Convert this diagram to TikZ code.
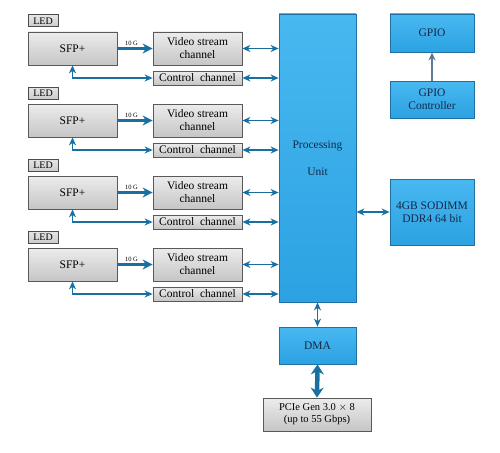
\documentclass[tikz,border=0pt]{standalone}
\usepackage{fontspec}
\setmainfont{Liberation Serif}
\usetikzlibrary{arrows.meta}

\definecolor{boxblue}{RGB}{44,162,226}
\definecolor{boxbluetop}{RGB}{72,184,240}
\definecolor{edgeblue}{RGB}{30,112,165}
\definecolor{linkblue}{RGB}{24,112,162}
\definecolor{inkblue}{RGB}{22,38,70}
\definecolor{gpiolink}{RGB}{96,122,150}

\begin{document}
\begin{tikzpicture}
  [x=1pt, y=-1pt,
   font=\fontsize{11.5}{13}\selectfont,
   bbox/.style={draw=edgeblue, thick, top color=boxbluetop, bottom color=boxblue,
                text=inkblue, align=center, inner sep=0},
   gbox/.style={draw=gray!70!black, thick, top color=gray!15, bottom color=gray!45,
                align=center, inner sep=0},
   ledbox/.style={draw=gray!60!black, line width=1pt, top color=gray!20,
                  bottom color=gray!40, minimum width=30pt, minimum height=12pt,
                  inner sep=0, font=\fontsize{10}{11}\selectfont},
   sfpbox/.style={gbox, minimum width=89pt, minimum height=33pt},
   vidbox/.style={gbox, minimum width=89pt, minimum height=33pt},
   ctlbox/.style={gbox, minimum width=89pt, minimum height=14pt},
   link/.style={draw=linkblue, line width=1.4pt,
                {Stealth[length=8pt,width=7pt]}-{Stealth[length=8pt,width=7pt]}},
   feed/.style={link},
   wide/.style={draw=linkblue, line width=3pt, -{Stealth[length=10pt,width=10pt]}},
   gig/.style={font=\fontsize{6.5}{7}\selectfont, inner sep=1pt}]

  \useasboundingbox (0,0) rectangle (500,452);

  % processing unit and the right hand side
  \node[bbox, minimum width=77pt, minimum height=288pt] (pu) at (317.5,158)
       {Processing\\[14pt]Unit};
  \node[bbox, minimum width=84pt, minimum height=38pt] (gpio) at (432,33) {GPIO};
  \node[bbox, minimum width=84pt, minimum height=37pt] (gpioc) at (432,99.5)
       {GPIO\\Controller};
  \node[bbox, minimum width=84pt, minimum height=66pt] (ram) at (432,212)
       {4GB SODIMM\\DDR4 64 bit};
  \node[bbox, minimum width=77pt, minimum height=37pt] (dma) at (317.5,345.5) {DMA};
  \node[gbox, minimum width=108pt, minimum height=33pt,
        font=\fontsize{10.5}{12}\selectfont] (pcie) at (317,414.5)
       {PCIe Gen 3.0 $\times$ 8\\(up to 55 Gbps)};

  \draw[draw=gpiolink, line width=1.4pt, -{Stealth[length=8pt,width=7pt]}]
    (gpioc.north) -- (gpio.south);
  \draw[link] (pu.east |- ram.west) -- (ram.west);
  \draw[link] (pu.south) -- (dma.north);
  \draw[draw=linkblue, line width=4.5pt,
        {Stealth[length=10pt,width=13pt]}-{Stealth[length=10pt,width=13pt]}]
    (dma.south) -- (pcie.north);

  % first link
  \node[ledbox] (led1) at (43,21) {LED};
  \node[sfpbox] (sfp1) at (72.5,48.5) {SFP+};
  \node[vidbox] (vid1) at (197.5,48.5) {Video stream\\channel};
  \node[ctlbox] (ctl1) at (197.5,78) {Control\ \ channel};
  \draw[wide] (sfp1.east) -- node[gig, above, pos=0.4] {10 G} (vid1.west);
  \draw[feed] (ctl1.west) -| (sfp1.south);
  \draw[link] (vid1.east) -- (vid1.east -| pu.west);
  \draw[link] (ctl1.east) -- (ctl1.east -| pu.west);

  % second link
  \node[ledbox] (led2) at (43,93) {LED};
  \node[sfpbox] (sfp2) at (72.5,120.5) {SFP+};
  \node[vidbox] (vid2) at (197.5,120.5) {Video stream\\channel};
  \node[ctlbox] (ctl2) at (197.5,150) {Control\ \ channel};
  \draw[wide] (sfp2.east) -- node[gig, above, pos=0.4] {10 G} (vid2.west);
  \draw[feed] (ctl2.west) -| (sfp2.south);
  \draw[link] (vid2.east) -- (vid2.east -| pu.west);
  \draw[link] (ctl2.east) -- (ctl2.east -| pu.west);

  % third link
  \node[ledbox] (led3) at (43,165) {LED};
  \node[sfpbox] (sfp3) at (72.5,192.5) {SFP+};
  \node[vidbox] (vid3) at (197.5,192.5) {Video stream\\channel};
  \node[ctlbox] (ctl3) at (197.5,222) {Control\ \ channel};
  \draw[wide] (sfp3.east) -- node[gig, above, pos=0.4] {10 G} (vid3.west);
  \draw[feed] (ctl3.west) -| (sfp3.south);
  \draw[link] (vid3.east) -- (vid3.east -| pu.west);
  \draw[link] (ctl3.east) -- (ctl3.east -| pu.west);

  % fourth link
  \node[ledbox] (led4) at (43,237) {LED};
  \node[sfpbox] (sfp4) at (72.5,264.5) {SFP+};
  \node[vidbox] (vid4) at (197.5,264.5) {Video stream\\channel};
  \node[ctlbox] (ctl4) at (197.5,294) {Control\ \ channel};
  \draw[wide] (sfp4.east) -- node[gig, above, pos=0.4] {10 G} (vid4.west);
  \draw[feed] (ctl4.west) -| (sfp4.south);
  \draw[link] (vid4.east) -- (vid4.east -| pu.west);
  \draw[link] (ctl4.east) -- (ctl4.east -| pu.west);

\end{tikzpicture}
\end{document}
